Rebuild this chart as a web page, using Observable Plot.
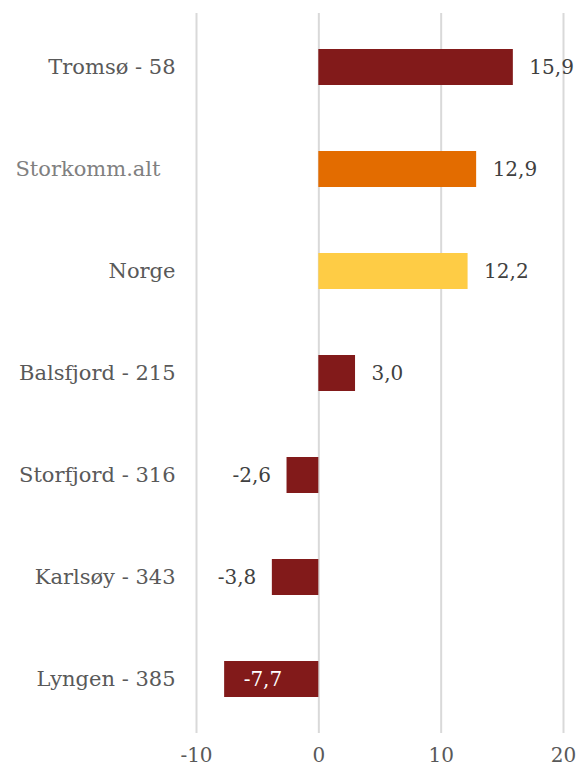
<!DOCTYPE html>
<html>
<head>
<meta charset="utf-8">
<script src="https://cdn.jsdelivr.net/npm/d3@7"></script>
<script src="https://cdn.jsdelivr.net/npm/@observablehq/plot@0.6"></script>
<style>
  html, body { margin: 0; padding: 0; background: #fff; }
  #chart svg { display: block; }
</style>
</head>
<body>
<div id="chart"></div>
<script>
const categories = ["Tromsø - 58", "Storkomm.alt", "Norge", "Balsfjord - 215", "Storfjord - 316", "Karlsøy - 343", "Lyngen - 385"];
const values = [15.9, 12.9, 12.2, 3.0, -2.6, -3.8, -7.7];
const barColors = ["#821A1A", "#E36C00", "#FECC45", "#821A1A", "#821A1A", "#821A1A", "#821A1A"];
const xTicks = [-10, 0, 10, 20];

const data = categories.map((c, i) => ({cat: c, value: values[i], color: barColors[i]}));
const fmt = v => v.toFixed(1).replace(".", ",");
const font = "DejaVu Serif, serif";
const fs = 20;

const chart = Plot.plot({
  width: 578,
  height: 769,
  marginLeft: 196,
  marginRight: 15,
  marginTop: 13,
  marginBottom: 36,
  style: {fontFamily: font, background: "#fff"},
  x: {domain: [-10, 20], ticks: xTicks},
  y: {domain: categories, paddingInner: 0.65, paddingOuter: 0.325, axis: null},
  marks: [
    Plot.ruleX(xTicks, {stroke: "#d9d9d9", strokeWidth: 2}),
    Plot.barX(data, {y: "cat", x: "value", fill: "color"}),
    Plot.axisX({ticks: xTicks, tickSize: 0, tickPadding: 14, fontSize: fs, fill: "#595959", tickFormat: d => String(d), label: null}),
    Plot.text(data.filter(d => d.cat !== "Storkomm.alt"), {y: "cat", frameAnchor: "left", text: "cat", textAnchor: "end", dx: -21, fontSize: 21, fill: "#595959"}),
    Plot.text(data.filter(d => d.cat === "Storkomm.alt"), {y: "cat", frameAnchor: "left", text: "cat", textAnchor: "end", dx: -36, fontSize: 21, fill: "#808080"}),
    Plot.text(data.filter(d => d.value >= 0), {y: "cat", x: "value", text: d => fmt(d.value), textAnchor: "start", dx: 16, fontSize: fs, fill: "#404040"}),
    Plot.text(data.filter(d => d.value < 0 && d.value > -5), {y: "cat", x: "value", text: d => fmt(d.value), textAnchor: "end", dx: -16, fontSize: fs, fill: "#404040"}),
    Plot.text(data.filter(d => d.value <= -5), {y: "cat", x: "value", text: d => fmt(d.value), textAnchor: "start", dx: 19, fontSize: fs, fill: "#ffffff"})
  ]
});
document.getElementById("chart").append(chart);
</script>
</body>
</html>
